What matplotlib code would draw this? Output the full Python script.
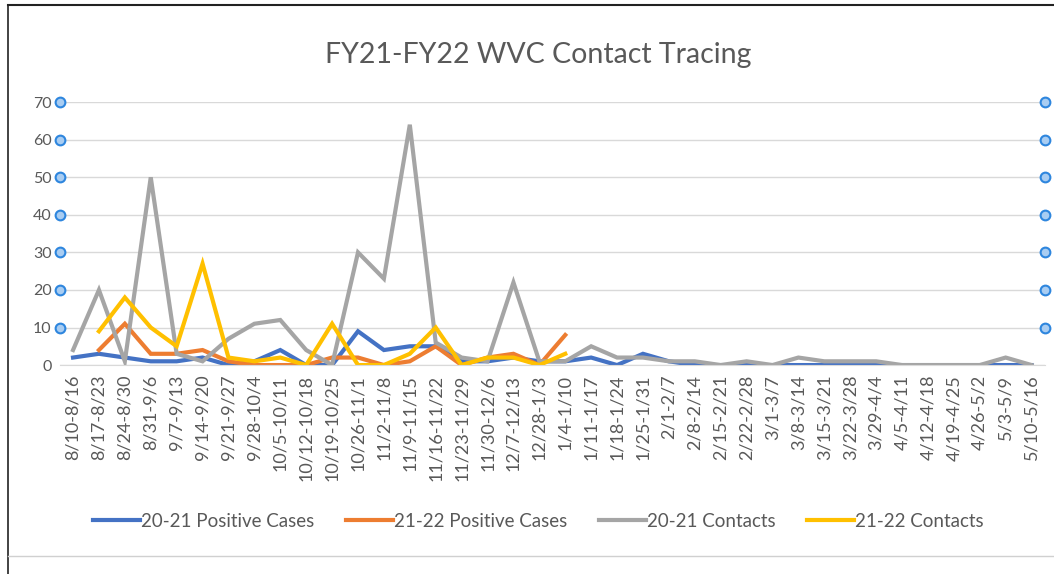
import numpy as np
import matplotlib
matplotlib.use("Agg")
import matplotlib.pyplot as plt
from matplotlib.lines import Line2D

plt.rcParams["font.family"] = ["Lato", "DejaVu Sans"]

weeks = ["8/10-8/16", "8/17-8/23", "8/24-8/30", "8/31-9/6", "9/7-9/13", "9/14-9/20",
         "9/21-9/27", "9/28-10/4", "10/5-10/11", "10/12-10/18", "10/19-10/25",
         "10/26-11/1", "11/2-11/8", "11/9-11/15", "11/16-11/22", "11/23-11/29",
         "11/30-12/6", "12/7-12/13", "12/28-1/3", "1/4-1/10", "1/11-1/17",
         "1/18-1/24", "1/25-1/31", "2/1-2/7", "2/8-2/14", "2/15-2/21", "2/22-2/28",
         "3/1-3/7", "3/8-3/14", "3/15-3/21", "3/22-3/28", "3/29-4/4", "4/5-4/11",
         "4/12-4/18", "4/19-4/25", "4/26-5/2", "5/3-5/9", "5/10-5/16"]

nan = np.nan
pos_2021 = [2, 3, 2, 1, 1, 2, 0, 1, 4, 0, 0, 9, 4, 5, 5, 1, 1, 2, 1, 1,
            2, 0, 3, 1, 0, 0, 0, 0, 0, 0, 0, 0, 0, 0, 0, 0, 0, 0]
pos_2122 = [nan, 4, 11, 3, 3, 4, 1, 0, 0, 0, 2, 2, 0, 1, 5, 0, 2, 3, 0, 8] + [nan] * 18
contacts_2021 = [4, 20, 1, 50, 3, 1, 7, 11, 12, 4, 0, 30, 23, 64, 6, 2, 1, 22, 1, 1,
                 5, 2, 2, 1, 1, 0, 1, 0, 2, 1, 1, 1, 0, 0, 0, 0, 2, 0]
contacts_2122 = [nan, 9, 18, 10, 5, 27, 2, 1, 2, 0, 11, 0, 0, 3, 10, 0, 2, 2, 0, 3] + [nan] * 18

marker_levels = [10, 20, 30, 40, 50, 60, 70]

series = [
    ("20-21 Positive Cases", pos_2021, "#4472C4"),
    ("21-22 Positive Cases", pos_2122, "#ED7D31"),
    ("20-21 Contacts", contacts_2021, "#A5A5A5"),
    ("21-22 Contacts", contacts_2122, "#FFC000"),
]

fig = plt.figure(figsize=(10.54, 5.74), dpi=100)
ax = fig.add_axes([0.057, 0.364, 0.934, 0.458])

x = np.arange(len(weeks))
handles = []
for label, vals, color in series:
    ln, = ax.plot(x, vals, color=color, lw=3, solid_joinstyle="miter", label=label)
    handles.append(ln)

# marker series on both edges
for xe in (-0.5, len(weeks) - 0.5):
    ax.plot([xe] * len(marker_levels), marker_levels, "o", ms=7, mfc="#A9CDF2",
            mec="#2E86DE", mew=1.5, ls="none", clip_on=False, zorder=5)

ax.set_xlim(-0.5, len(weeks) - 0.5)
ax.set_ylim(0, 70)
ax.set_yticks(range(0, 71, 10))
ax.set_xticks(x)
ax.set_xticklabels(weeks, rotation=90, fontsize=13, color="#595959")
ax.tick_params(axis="y", labelsize=11.5, labelcolor="#595959", length=0, pad=6)
ax.tick_params(axis="x", length=0, pad=7)
ax.grid(axis="y", color="#D9D9D9", lw=1)
ax.set_axisbelow(True)
for s in ("top", "right", "left"):
    ax.spines[s].set_visible(False)
ax.spines["bottom"].set_color("#D9D9D9")

fig.text(0.511, 0.905, "FY21-FY22 WVC Contact Tracing", ha="center", va="center",
         fontsize=20.5, color="#595959")

fig.legend(handles=handles, loc="center", bbox_to_anchor=(0.511, 0.092), ncol=4,
           frameon=False, fontsize=13.5, labelcolor="#595959", handlelength=2.5,
           handletextpad=0.05, columnspacing=1.7)

# chart frame
fig.add_artist(Line2D([0.008, 1.0], [0.991, 0.991], color="#222222", lw=1.5,
                      transform=fig.transFigure))
fig.add_artist(Line2D([0.008, 0.008], [0.0, 0.991], color="#222222", lw=1.2,
                      transform=fig.transFigure))
fig.add_artist(Line2D([0.008, 1.0], [0.031, 0.031], color="#D0D0D0", lw=1,
                      transform=fig.transFigure))

fig.savefig("out.png", dpi=100)
